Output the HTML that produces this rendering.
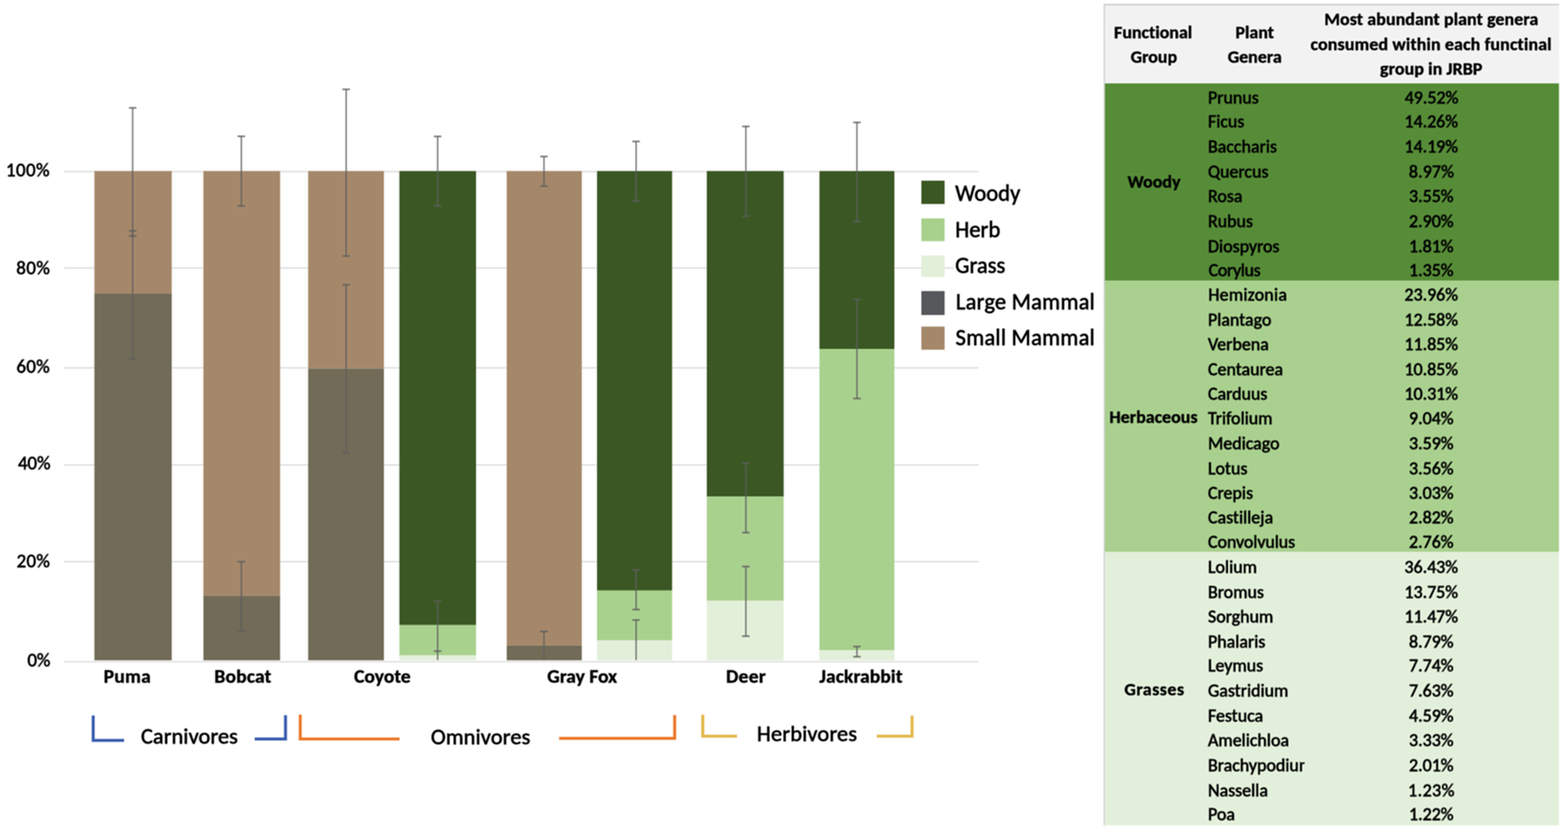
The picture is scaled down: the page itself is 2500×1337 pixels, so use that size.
<!DOCTYPE html>
<html><head><meta charset="utf-8"><title>Diet composition chart</title>
<style>html,body{margin:0;padding:0;background:#fff;}body{width:2500px;height:1337px;overflow:hidden;}svg{display:block;}text{font-variant-ligatures:none;font-kerning:normal;stroke:#000;stroke-width:0.9px;paint-order:normal;}text[font-weight=bold]{stroke-width:0.6px;}</style>
</head><body>
<svg width="2500" height="1337" viewBox="0 0 2500 1337" font-family="Carlito, 'Liberation Sans', sans-serif">
<rect x="0" y="0" width="2500" height="1337" fill="#FFFFFF"/>
<defs><filter id="soft" x="0" y="0" width="2500" height="1337" filterUnits="userSpaceOnUse" color-interpolation-filters="sRGB"><feGaussianBlur stdDeviation="1.0"/><feConvolveMatrix order="3" kernelMatrix="0 -0.5 0 -0.5 3.0 -0.5 0 -0.5 0" divisor="1" edgeMode="duplicate" preserveAlpha="true"/></filter></defs>
<g filter="url(#soft)">
<rect x="0" y="0" width="2500" height="1337" fill="#FFFFFF"/>
<line x1="101.7" y1="273.4" x2="1560.4" y2="273.4" stroke="#DADADA" stroke-width="2"/>
<line x1="101.7" y1="427.2" x2="1521" y2="427.2" stroke="#DADADA" stroke-width="2"/>
<line x1="101.7" y1="586.2" x2="1560.4" y2="586.2" stroke="#DADADA" stroke-width="2"/>
<line x1="101.7" y1="741.0" x2="1560.4" y2="741.0" stroke="#DADADA" stroke-width="2"/>
<line x1="101.7" y1="895.0" x2="1560.4" y2="895.0" stroke="#DADADA" stroke-width="2"/>
<line x1="101.7" y1="1054.4" x2="1560.4" y2="1054.4" stroke="#DADADA" stroke-width="2"/>
<rect x="150.5" y="272.6" width="123.3" height="195.3" fill="#A5886A"/>
<rect x="150.5" y="467.9" width="123.3" height="584.3" fill="#716B57"/>
<rect x="324.3" y="272.6" width="122.3" height="676.7" fill="#A5886A"/>
<rect x="324.3" y="949.3" width="122.3" height="102.9" fill="#716B57"/>
<rect x="491.3" y="272.6" width="120.8" height="314.8" fill="#A5886A"/>
<rect x="491.3" y="587.4" width="120.8" height="464.8" fill="#716B57"/>
<rect x="636.8" y="272.6" width="122.2" height="723.3" fill="#3B5824"/>
<rect x="636.8" y="995.9" width="122.2" height="48.6" fill="#A9D18E"/>
<rect x="636.8" y="1044.5" width="122.2" height="7.7" fill="#E2EFD9"/>
<rect x="807.9" y="272.6" width="119.7" height="756.3" fill="#A5886A"/>
<rect x="807.9" y="1028.9" width="119.7" height="23.3" fill="#716B57"/>
<rect x="951.9" y="272.6" width="119.7" height="668.3" fill="#3B5824"/>
<rect x="951.9" y="940.9" width="119.7" height="79.7" fill="#A9D18E"/>
<rect x="951.9" y="1020.6" width="119.7" height="31.6" fill="#E2EFD9"/>
<rect x="1126.9" y="272.6" width="122.6" height="518.6" fill="#3B5824"/>
<rect x="1126.9" y="791.2" width="122.6" height="165.8" fill="#A9D18E"/>
<rect x="1126.9" y="957.0" width="122.6" height="95.2" fill="#E2EFD9"/>
<rect x="1306.5" y="272.6" width="119.5" height="283.4" fill="#3B5824"/>
<rect x="1306.5" y="556.0" width="119.5" height="480.3" fill="#A9D18E"/>
<rect x="1306.5" y="1036.3" width="119.5" height="15.9" fill="#E2EFD9"/>
<line x1="211.5" y1="171.9" x2="211.5" y2="376.0" stroke="#5E5E5E" stroke-width="2.2" stroke-opacity="0.85"/>
<line x1="205.5" y1="171.9" x2="217.5" y2="171.9" stroke="#5E5E5E" stroke-width="2.5" stroke-opacity="0.85"/>
<line x1="205.5" y1="376.0" x2="217.5" y2="376.0" stroke="#5E5E5E" stroke-width="2.5" stroke-opacity="0.85"/>
<line x1="211.5" y1="368.0" x2="211.5" y2="572.0" stroke="#5E5E5E" stroke-width="2.2" stroke-opacity="0.85"/>
<line x1="205.5" y1="368.0" x2="217.5" y2="368.0" stroke="#5E5E5E" stroke-width="2.5" stroke-opacity="0.85"/>
<line x1="205.5" y1="572.0" x2="217.5" y2="572.0" stroke="#5E5E5E" stroke-width="2.5" stroke-opacity="0.85"/>
<line x1="384.8" y1="217.2" x2="384.8" y2="328.2" stroke="#5E5E5E" stroke-width="2.2" stroke-opacity="0.85"/>
<line x1="378.8" y1="217.2" x2="390.8" y2="217.2" stroke="#5E5E5E" stroke-width="2.5" stroke-opacity="0.85"/>
<line x1="378.8" y1="328.2" x2="390.8" y2="328.2" stroke="#5E5E5E" stroke-width="2.5" stroke-opacity="0.85"/>
<line x1="384.8" y1="895.1" x2="384.8" y2="1006.1" stroke="#5E5E5E" stroke-width="2.2" stroke-opacity="0.85"/>
<line x1="378.8" y1="895.1" x2="390.8" y2="895.1" stroke="#5E5E5E" stroke-width="2.5" stroke-opacity="0.85"/>
<line x1="378.8" y1="1006.1" x2="390.8" y2="1006.1" stroke="#5E5E5E" stroke-width="2.5" stroke-opacity="0.85"/>
<line x1="551.9" y1="142.4" x2="551.9" y2="408.0" stroke="#5E5E5E" stroke-width="2.2" stroke-opacity="0.85"/>
<line x1="545.9" y1="142.4" x2="557.9" y2="142.4" stroke="#5E5E5E" stroke-width="2.5" stroke-opacity="0.85"/>
<line x1="545.9" y1="408.0" x2="557.9" y2="408.0" stroke="#5E5E5E" stroke-width="2.5" stroke-opacity="0.85"/>
<line x1="551.9" y1="453.9" x2="551.9" y2="721.9" stroke="#5E5E5E" stroke-width="2.2" stroke-opacity="0.85"/>
<line x1="545.9" y1="453.9" x2="557.9" y2="453.9" stroke="#5E5E5E" stroke-width="2.5" stroke-opacity="0.85"/>
<line x1="545.9" y1="721.9" x2="557.9" y2="721.9" stroke="#5E5E5E" stroke-width="2.5" stroke-opacity="0.85"/>
<line x1="697.8" y1="217.4" x2="697.8" y2="328.0" stroke="#5E5E5E" stroke-width="2.2" stroke-opacity="0.85"/>
<line x1="691.8" y1="217.4" x2="703.8" y2="217.4" stroke="#5E5E5E" stroke-width="2.5" stroke-opacity="0.85"/>
<line x1="691.8" y1="328.0" x2="703.8" y2="328.0" stroke="#5E5E5E" stroke-width="2.5" stroke-opacity="0.85"/>
<line x1="697.8" y1="958.0" x2="697.8" y2="1037.7" stroke="#5E5E5E" stroke-width="2.2" stroke-opacity="0.85"/>
<line x1="691.8" y1="958.0" x2="703.8" y2="958.0" stroke="#5E5E5E" stroke-width="2.5" stroke-opacity="0.85"/>
<line x1="691.8" y1="1037.7" x2="703.8" y2="1037.7" stroke="#5E5E5E" stroke-width="2.5" stroke-opacity="0.85"/>
<line x1="697.8" y1="1037.7" x2="697.8" y2="1052.0" stroke="#5E5E5E" stroke-width="2.2" stroke-opacity="0.85"/>
<line x1="867.3" y1="249.4" x2="867.3" y2="296.6" stroke="#5E5E5E" stroke-width="2.2" stroke-opacity="0.85"/>
<line x1="861.3" y1="249.4" x2="873.3" y2="249.4" stroke="#5E5E5E" stroke-width="2.5" stroke-opacity="0.85"/>
<line x1="861.3" y1="296.6" x2="873.3" y2="296.6" stroke="#5E5E5E" stroke-width="2.5" stroke-opacity="0.85"/>
<line x1="867.3" y1="1006.2" x2="867.3" y2="1052.0" stroke="#5E5E5E" stroke-width="2.2" stroke-opacity="0.85"/>
<line x1="861.3" y1="1006.2" x2="873.3" y2="1006.2" stroke="#5E5E5E" stroke-width="2.5" stroke-opacity="0.85"/>
<line x1="1014.2" y1="225.4" x2="1014.2" y2="320.3" stroke="#5E5E5E" stroke-width="2.2" stroke-opacity="0.85"/>
<line x1="1008.2" y1="225.4" x2="1020.2" y2="225.4" stroke="#5E5E5E" stroke-width="2.5" stroke-opacity="0.85"/>
<line x1="1008.2" y1="320.3" x2="1020.2" y2="320.3" stroke="#5E5E5E" stroke-width="2.5" stroke-opacity="0.85"/>
<line x1="1014.2" y1="908.2" x2="1014.2" y2="971.4" stroke="#5E5E5E" stroke-width="2.2" stroke-opacity="0.85"/>
<line x1="1008.2" y1="908.2" x2="1020.2" y2="908.2" stroke="#5E5E5E" stroke-width="2.5" stroke-opacity="0.85"/>
<line x1="1008.2" y1="971.4" x2="1020.2" y2="971.4" stroke="#5E5E5E" stroke-width="2.5" stroke-opacity="0.85"/>
<line x1="1014.2" y1="988.0" x2="1014.2" y2="1052.0" stroke="#5E5E5E" stroke-width="2.2" stroke-opacity="0.85"/>
<line x1="1008.2" y1="988.0" x2="1020.2" y2="988.0" stroke="#5E5E5E" stroke-width="2.5" stroke-opacity="0.85"/>
<line x1="1189.2" y1="201.5" x2="1189.2" y2="344.6" stroke="#5E5E5E" stroke-width="2.2" stroke-opacity="0.85"/>
<line x1="1183.2" y1="201.5" x2="1195.2" y2="201.5" stroke="#5E5E5E" stroke-width="2.5" stroke-opacity="0.85"/>
<line x1="1183.2" y1="344.6" x2="1195.2" y2="344.6" stroke="#5E5E5E" stroke-width="2.5" stroke-opacity="0.85"/>
<line x1="1189.2" y1="738.3" x2="1189.2" y2="848.8" stroke="#5E5E5E" stroke-width="2.2" stroke-opacity="0.85"/>
<line x1="1183.2" y1="738.3" x2="1195.2" y2="738.3" stroke="#5E5E5E" stroke-width="2.5" stroke-opacity="0.85"/>
<line x1="1183.2" y1="848.8" x2="1195.2" y2="848.8" stroke="#5E5E5E" stroke-width="2.5" stroke-opacity="0.85"/>
<line x1="1189.2" y1="902.8" x2="1189.2" y2="1013.8" stroke="#5E5E5E" stroke-width="2.2" stroke-opacity="0.85"/>
<line x1="1183.2" y1="902.8" x2="1195.2" y2="902.8" stroke="#5E5E5E" stroke-width="2.5" stroke-opacity="0.85"/>
<line x1="1183.2" y1="1013.8" x2="1195.2" y2="1013.8" stroke="#5E5E5E" stroke-width="2.5" stroke-opacity="0.85"/>
<line x1="1366.3" y1="195.1" x2="1366.3" y2="353.0" stroke="#5E5E5E" stroke-width="2.2" stroke-opacity="0.85"/>
<line x1="1360.3" y1="195.1" x2="1372.3" y2="195.1" stroke="#5E5E5E" stroke-width="2.5" stroke-opacity="0.85"/>
<line x1="1360.3" y1="353.0" x2="1372.3" y2="353.0" stroke="#5E5E5E" stroke-width="2.5" stroke-opacity="0.85"/>
<line x1="1366.3" y1="477.1" x2="1366.3" y2="635.0" stroke="#5E5E5E" stroke-width="2.2" stroke-opacity="0.85"/>
<line x1="1360.3" y1="477.1" x2="1372.3" y2="477.1" stroke="#5E5E5E" stroke-width="2.5" stroke-opacity="0.85"/>
<line x1="1360.3" y1="635.0" x2="1372.3" y2="635.0" stroke="#5E5E5E" stroke-width="2.5" stroke-opacity="0.85"/>
<line x1="1366.3" y1="1030.3" x2="1366.3" y2="1046.5" stroke="#5E5E5E" stroke-width="2.2" stroke-opacity="0.85"/>
<line x1="1360.3" y1="1030.3" x2="1372.3" y2="1030.3" stroke="#5E5E5E" stroke-width="2.5" stroke-opacity="0.85"/>
<line x1="1360.3" y1="1046.5" x2="1372.3" y2="1046.5" stroke="#5E5E5E" stroke-width="2.5" stroke-opacity="0.85"/>
<text id="x_Puma" x="202.85" y="1087.6" font-size="31.2" font-weight="bold" text-anchor="middle" textLength="75.21" lengthAdjust="spacing">Puma</text>
<text id="x_Bobcat" x="387.2" y="1087.6" font-size="31.2" font-weight="bold" text-anchor="middle" textLength="90.78" lengthAdjust="spacing">Bobcat</text>
<text id="x_Coyote" x="609.6" y="1087.6" font-size="31.2" font-weight="bold" text-anchor="middle" textLength="90.44" lengthAdjust="spacing">Coyote</text>
<text id="x_GrayFox" x="928.2" y="1087.6" font-size="31.2" font-weight="bold" text-anchor="middle" textLength="111.34" lengthAdjust="spacing">Gray Fox</text>
<text id="x_Deer" x="1189.2" y="1087.6" font-size="31.2" font-weight="bold" text-anchor="middle" textLength="63.36" lengthAdjust="spacing">Deer</text>
<text id="x_Jackrabbit" x="1372.7" y="1087.6" font-size="31.2" font-weight="bold" text-anchor="middle" textLength="132.48" lengthAdjust="spacing">Jackrabbit</text>
<text id="y_100" x="78.9" y="281.2" font-size="30" text-anchor="end" textLength="69.46" lengthAdjust="spacing">100%</text>
<text id="y_80" x="79.4" y="437.2" font-size="30" text-anchor="end" textLength="53.46" lengthAdjust="spacing">80%</text>
<text id="y_60" x="79.2" y="594.0" font-size="30" text-anchor="end" textLength="53.06" lengthAdjust="spacing">60%</text>
<text id="y_40" x="80.5" y="747.7" font-size="30" text-anchor="end" textLength="51.86" lengthAdjust="spacing">40%</text>
<text id="y_20" x="79.4" y="904.3" font-size="30" text-anchor="end" textLength="52.86" lengthAdjust="spacing">20%</text>
<text id="y_0" x="80.3" y="1062.0" font-size="30" text-anchor="end" textLength="36.66" lengthAdjust="spacing">0%</text>
<rect x="1469" y="287.9" width="37.1" height="37.2" fill="#3B5824"/>
<text id="l_woody" x="1523" y="320.2" font-size="36" textLength="103.70" lengthAdjust="spacing">Woody</text>
<rect x="1469" y="348.0" width="37.1" height="36.4" fill="#A9D18E"/>
<text id="l_herb" x="1523" y="377.7" font-size="36" textLength="71.81" lengthAdjust="spacing">Herb</text>
<rect x="1469" y="407.0" width="37.1" height="34.3" fill="#E2EFD9"/>
<text id="l_grass" x="1523" y="435.2" font-size="36" textLength="79.94" lengthAdjust="spacing">Grass</text>
<rect x="1469" y="463.8" width="37.1" height="38.2" fill="#56585B"/>
<text id="l_lm_leg" x="1524.1" y="492.6" font-size="36" textLength="221.39" lengthAdjust="spacing">Large Mammal</text>
<rect x="1469" y="520.4" width="37.1" height="36.9" fill="#A5886A"/>
<text id="l_sm" x="1523.5" y="550.4" font-size="36" textLength="222.05" lengthAdjust="spacing">Small Mammal</text>
<polyline points="148.6,1140.3 148.6,1179.9 197.8,1179.9" fill="none" stroke="#3A5EAE" stroke-width="4.8" stroke-linejoin="miter" stroke-linecap="butt"/>
<polyline points="406.1,1177.6 455.2,1177.6 455.2,1139.8" fill="none" stroke="#3A5EAE" stroke-width="4.8" stroke-linejoin="miter" stroke-linecap="butt"/>
<polyline points="478.7,1138.7 478.7,1177.6 637.1,1177.6" fill="none" stroke="#EB7B2E" stroke-width="4.8" stroke-linejoin="miter" stroke-linecap="butt"/>
<polyline points="891.4,1176.7 1075.7,1176.7 1075.7,1139.4" fill="none" stroke="#EB7B2E" stroke-width="4.8" stroke-linejoin="miter" stroke-linecap="butt"/>
<polyline points="1120.5,1139.0 1120.5,1173.2 1175.2,1173.2" fill="none" stroke="#E3B84C" stroke-width="4.8" stroke-linejoin="miter" stroke-linecap="butt"/>
<polyline points="1397.9,1173.2 1454.2,1173.2 1454.2,1140.5" fill="none" stroke="#E3B84C" stroke-width="4.8" stroke-linejoin="miter" stroke-linecap="butt"/>
<text id="g_carn" x="224.7" y="1184.9" font-size="35.7" textLength="154.61" lengthAdjust="spacing">Carnivores</text>
<text id="g_omni" x="686.9" y="1185.5" font-size="35.7" textLength="158.68" lengthAdjust="spacing">Omnivores</text>
<text id="g_herb" x="1206.8" y="1181.1" font-size="35.7" textLength="159.77" lengthAdjust="spacing">Herbivores</text>
<rect x="1761.5" y="7.5" width="724.1" height="125.4" fill="#F2F2F2"/>
<rect x="1761.5" y="132.9" width="724.1" height="314.1" fill="#568C37"/>
<rect x="1761.5" y="447.0" width="724.1" height="432.6" fill="#A9D08E"/>
<rect x="1761.5" y="879.6" width="724.1" height="435.6" fill="#E2EFDA"/>
<line x1="1760.6" y1="7.3" x2="2485.6" y2="7.3" stroke="#C6C6C6" stroke-width="2"/>
<line x1="1760.6" y1="6.3" x2="1760.6" y2="1315.2" stroke="#C6C6C6" stroke-width="1.6"/>
<text id="h_func" x="1838.55" y="60.6" font-size="28.6" font-weight="bold" text-anchor="middle" textLength="124.58" lengthAdjust="spacing">Functional</text>
<text id="h_group" x="1839.75" y="100.2" font-size="28.6" font-weight="bold" text-anchor="middle" textLength="74.11" lengthAdjust="spacing">Group</text>
<text id="h_plant" x="2000.5" y="60.6" font-size="28.6" font-weight="bold" text-anchor="middle" textLength="61.36" lengthAdjust="spacing">Plant</text>
<text id="h_genera" x="2000.5" y="100.2" font-size="28.6" font-weight="bold" text-anchor="middle" textLength="86.02" lengthAdjust="spacing">Genera</text>
<text id="h_l1" x="2282.05" y="40.3" font-size="28.6" font-weight="bold" text-anchor="middle" textLength="341.18" lengthAdjust="spacing">Most abundant plant genera</text>
<text id="h_l2" x="2281.6" y="79.7" font-size="28.6" font-weight="bold" text-anchor="middle" textLength="384.38" lengthAdjust="spacing">consumed within each functinal</text>
<text id="h_l3" x="2281.9" y="119.1" font-size="28.6" font-weight="bold" text-anchor="middle" textLength="163.35" lengthAdjust="spacing">group in JRBP</text>
<text id="t_woody" x="1840.0" y="299.4" font-size="28.6" font-weight="bold" text-anchor="middle" textLength="84.44" lengthAdjust="spacing">Woody</text>
<text id="t_herb" x="1839.1" y="674.2" font-size="28.6" font-weight="bold" text-anchor="middle" textLength="140.55" lengthAdjust="spacing">Herbaceous</text>
<text id="t_grass" x="1840.3" y="1107.6" font-size="28.6" font-weight="bold" text-anchor="middle" textLength="95.10" lengthAdjust="spacing">Grasses</text>
<defs><clipPath id="c2"><rect x="1917" y="0" width="163" height="1337"/></clipPath></defs>
<g clip-path="url(#c2)">
<text id="r0g" x="1926" y="165.3" font-size="28.6" textLength="81.00" lengthAdjust="spacing">Prunus</text>
<text id="r1g" x="1926" y="203.2" font-size="28.6" textLength="58.00" lengthAdjust="spacing">Ficus</text>
<text id="r2g" x="1926" y="243.1" font-size="28.6" textLength="109.88" lengthAdjust="spacing">Baccharis</text>
<text id="r3g" x="1926" y="282.6" font-size="28.6" textLength="96.34" lengthAdjust="spacing">Quercus</text>
<text id="r4g" x="1926" y="322.1" font-size="28.6" textLength="54.91" lengthAdjust="spacing">Rosa</text>
<text id="r5g" x="1926" y="362.4" font-size="28.6" textLength="71.78" lengthAdjust="spacing">Rubus</text>
<text id="r6g" x="1926" y="402.3" font-size="28.6" textLength="114.02" lengthAdjust="spacing">Diospyros</text>
<text id="r7g" x="1927.1" y="439.6" font-size="28.6" textLength="82.86" lengthAdjust="spacing">Corylus</text>
<text id="r8g" x="1926.4" y="479.2" font-size="28.6" textLength="125.48" lengthAdjust="spacing">Hemizonia</text>
<text id="r9g" x="1926" y="518.7" font-size="28.6" textLength="101.06" lengthAdjust="spacing">Plantago</text>
<text id="r10g" x="1926" y="558.2" font-size="28.6" textLength="96.97" lengthAdjust="spacing">Verbena</text>
<text id="r11g" x="1926" y="598.0" font-size="28.6" textLength="119.70" lengthAdjust="spacing">Centaurea</text>
<text id="r12g" x="1926" y="636.7" font-size="28.6" textLength="94.78" lengthAdjust="spacing">Carduus</text>
<text id="r13g" x="1926" y="676.4" font-size="28.6" textLength="102.89" lengthAdjust="spacing">Trifolium</text>
<text id="r14g" x="1926" y="716.3" font-size="28.6" textLength="114.16" lengthAdjust="spacing">Medicago</text>
<text id="r15g" x="1926" y="755.9" font-size="28.6" textLength="62.89" lengthAdjust="spacing">Lotus</text>
<text id="r16g" x="1926" y="795.1" font-size="28.6" textLength="71.84" lengthAdjust="spacing">Crepis</text>
<text id="r17g" x="1926" y="834.4" font-size="28.6" textLength="103.84" lengthAdjust="spacing">Castilleja</text>
<text id="r18g" x="1926.1" y="872.7" font-size="28.6" textLength="138.87" lengthAdjust="spacing">Convolvulus</text>
<text id="r19g" x="1926" y="912.7" font-size="28.6" textLength="78.09" lengthAdjust="spacing">Lolium</text>
<text id="r20g" x="1926" y="952.6" font-size="28.6" textLength="89.20" lengthAdjust="spacing">Bromus</text>
<text id="r21g" x="1926" y="992.2" font-size="28.6" textLength="104.16" lengthAdjust="spacing">Sorghum</text>
<text id="r22g" x="1926" y="1031.7" font-size="28.6" textLength="91.47" lengthAdjust="spacing">Phalaris</text>
<text id="r23g" x="1926" y="1070.4" font-size="28.6" textLength="88.06" lengthAdjust="spacing">Leymus</text>
<text id="r24g" x="1926" y="1109.6" font-size="28.6" textLength="128.16" lengthAdjust="spacing">Gastridium</text>
<text id="r25g" x="1926" y="1149.7" font-size="28.6" textLength="87.97" lengthAdjust="spacing">Festuca</text>
<text id="r26g" x="1926" y="1189.2" font-size="28.6" textLength="129.20" lengthAdjust="spacing">Amelichloa</text>
<text id="r27g" x="1926" y="1228.7" font-size="28.6" textLength="167.72" lengthAdjust="spacing">Brachypodium</text>
<text id="r28g" x="1926" y="1268.5" font-size="28.6" textLength="95.58" lengthAdjust="spacing">Nassella</text>
<text id="r29g" x="1926" y="1307.1" font-size="28.6" textLength="42.98" lengthAdjust="spacing">Poa</text>
</g>
<text id="r0p" x="2282.45" y="165.3" font-size="28.6" text-anchor="middle" textLength="85.64" lengthAdjust="spacing">49.52%</text>
<text id="r1p" x="2282" y="203.2" font-size="28.6" text-anchor="middle" textLength="85.64" lengthAdjust="spacing">14.26%</text>
<text id="r2p" x="2282" y="243.1" font-size="28.6" text-anchor="middle" textLength="85.64" lengthAdjust="spacing">14.19%</text>
<text id="r3p" x="2282.25" y="282.6" font-size="28.6" text-anchor="middle" textLength="72.04" lengthAdjust="spacing">8.97%</text>
<text id="r4p" x="2282" y="322.1" font-size="28.6" text-anchor="middle" textLength="71.14" lengthAdjust="spacing">3.55%</text>
<text id="r5p" x="2282" y="362.4" font-size="28.6" text-anchor="middle" textLength="71.14" lengthAdjust="spacing">2.90%</text>
<text id="r6p" x="2282" y="402.3" font-size="28.6" text-anchor="middle" textLength="71.14" lengthAdjust="spacing">1.81%</text>
<text id="r7p" x="2282" y="439.6" font-size="28.6" text-anchor="middle" textLength="71.14" lengthAdjust="spacing">1.35%</text>
<text id="r8p" x="2282" y="479.2" font-size="28.6" text-anchor="middle" textLength="85.64" lengthAdjust="spacing">23.96%</text>
<text id="r9p" x="2282" y="518.7" font-size="28.6" text-anchor="middle" textLength="85.64" lengthAdjust="spacing">12.58%</text>
<text id="r10p" x="2282" y="558.2" font-size="28.6" text-anchor="middle" textLength="85.64" lengthAdjust="spacing">11.85%</text>
<text id="r11p" x="2282" y="598.0" font-size="28.6" text-anchor="middle" textLength="85.64" lengthAdjust="spacing">10.85%</text>
<text id="r12p" x="2282" y="636.7" font-size="28.6" text-anchor="middle" textLength="85.64" lengthAdjust="spacing">10.31%</text>
<text id="r13p" x="2282" y="676.4" font-size="28.6" text-anchor="middle" textLength="71.14" lengthAdjust="spacing">9.04%</text>
<text id="r14p" x="2282" y="716.3" font-size="28.6" text-anchor="middle" textLength="71.14" lengthAdjust="spacing">3.59%</text>
<text id="r15p" x="2282" y="755.9" font-size="28.6" text-anchor="middle" textLength="71.14" lengthAdjust="spacing">3.56%</text>
<text id="r16p" x="2282" y="795.1" font-size="28.6" text-anchor="middle" textLength="71.14" lengthAdjust="spacing">3.03%</text>
<text id="r17p" x="2282" y="834.4" font-size="28.6" text-anchor="middle" textLength="71.14" lengthAdjust="spacing">2.82%</text>
<text id="r18p" x="2282" y="872.7" font-size="28.6" text-anchor="middle" textLength="71.14" lengthAdjust="spacing">2.76%</text>
<text id="r19p" x="2282" y="912.7" font-size="28.6" text-anchor="middle" textLength="85.64" lengthAdjust="spacing">36.43%</text>
<text id="r20p" x="2282" y="952.6" font-size="28.6" text-anchor="middle" textLength="85.64" lengthAdjust="spacing">13.75%</text>
<text id="r21p" x="2282" y="992.2" font-size="28.6" text-anchor="middle" textLength="85.64" lengthAdjust="spacing">11.47%</text>
<text id="r22p" x="2282" y="1031.7" font-size="28.6" text-anchor="middle" textLength="71.14" lengthAdjust="spacing">8.79%</text>
<text id="r23p" x="2282" y="1070.4" font-size="28.6" text-anchor="middle" textLength="71.14" lengthAdjust="spacing">7.74%</text>
<text id="r24p" x="2282" y="1109.6" font-size="28.6" text-anchor="middle" textLength="71.14" lengthAdjust="spacing">7.63%</text>
<text id="r25p" x="2282" y="1149.7" font-size="28.6" text-anchor="middle" textLength="71.14" lengthAdjust="spacing">4.59%</text>
<text id="r26p" x="2282" y="1189.2" font-size="28.6" text-anchor="middle" textLength="71.14" lengthAdjust="spacing">3.33%</text>
<text id="r27p" x="2282" y="1228.7" font-size="28.6" text-anchor="middle" textLength="71.14" lengthAdjust="spacing">2.01%</text>
<text id="r28p" x="2282.0" y="1268.5" font-size="28.6" text-anchor="middle" textLength="73.94" lengthAdjust="spacing">1.23%</text>
<text id="r29p" x="2282" y="1307.1" font-size="28.6" text-anchor="middle" textLength="71.14" lengthAdjust="spacing">1.22%</text>
</g>
</svg>
</body></html>
